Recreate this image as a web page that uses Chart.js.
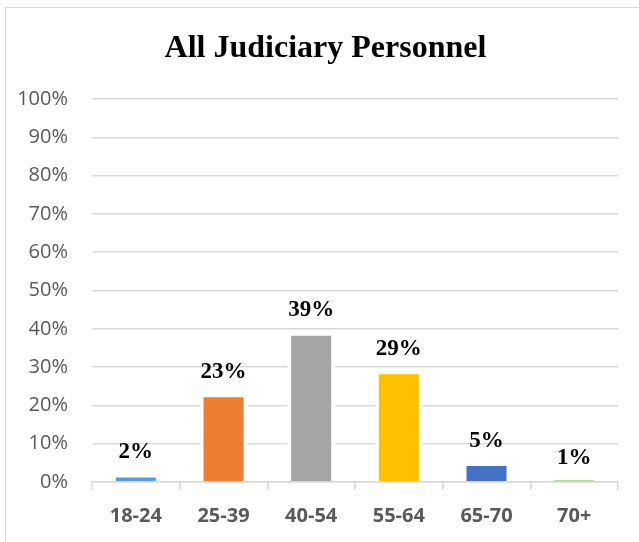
<!DOCTYPE html>
<html>
<head>
<meta charset="utf-8">
<script src="https://cdn.jsdelivr.net/npm/chart.js@4"></script>
<style>
  html, body { margin: 0; padding: 0; background: #ffffff; }
  #wrap { position: relative; width: 639px; height: 542px; overflow: hidden; }
  #frame { position: absolute; left: 5px; top: 7px; width: 700px; height: 600px;
           border-left: 1px solid #d9d9d9; border-top: 1px solid #d9d9d9; }
  canvas { position: absolute; left: 0; top: 0; }
</style>
</head>
<body>
<div id="wrap">
  <div id="frame"></div>
  <canvas id="c" width="639" height="542"></canvas>
</div>
<script>
const titleText = "All Judiciary Personnel";
const categories = ["18-24", "25-39", "40-54", "55-64", "65-70", "70+"];
const values = [2.2, 23.2, 39.2, 29.2, 5.2, 0.6];
const barColors = ["#5B9BD5", "#ED7D31", "#A5A5A5", "#FFC000", "#4472C4", "#70AD47"];
const yTicks = [0, 10, 20, 30, 40, 50, 60, 70, 80, 90, 100];

const titlePlugin = {
  id: "titlePlugin",
  afterDraw(chart) {
    const ctx = chart.ctx;
    ctx.save();
    ctx.font = "bold 32px 'Liberation Serif', 'Times New Roman', serif";
    ctx.fillStyle = "#000000";
    ctx.textAlign = "center";
    ctx.textBaseline = "alphabetic";
    ctx.fillText(titleText, 325.5, 57.3);
    ctx.restore();
  }
};

const dataLabels = {
  id: "dataLabels",
  afterDatasetsDraw(chart) {
    const ctx = chart.ctx;
    const meta = chart.getDatasetMeta(0);
    ctx.save();
    ctx.font = "bold 23px 'Liberation Serif', 'Times New Roman', serif";
    ctx.fillStyle = "#000000";
    ctx.textAlign = "center";
    ctx.textBaseline = "alphabetic";
    meta.data.forEach((bar, i) => {
      ctx.fillText(Math.max(1, Math.round(values[i])) + "%", bar.x, bar.y - 15.5);
    });
    ctx.restore();
  }
};

new Chart(document.getElementById("c"), {
  type: "bar",
  data: {
    labels: categories,
    datasets: [{
      data: values,
      backgroundColor: barColors,
      borderColor: "#ffffff",
      borderWidth: 4,
      borderSkipped: "bottom",
      barPercentage: 0.5475,
      categoryPercentage: 1.0
    }]
  },
  options: {
    responsive: false,
    animation: false,
    devicePixelRatio: 1,
    layout: { padding: { left: 0, right: 21, top: 99, bottom: 0 } },
    plugins: {
      legend: { display: false },
      tooltip: { enabled: false },
      title: { display: false }
    },
    scales: {
      x: {
        grid: { display: true, drawOnChartArea: false, drawTicks: true, tickLength: 8,
                color: "#d9d9d9", lineWidth: 1.5, offset: true },
        border: { display: true, color: "#d9d9d9", width: 1.5 },
        ticks: { color: "#595959", padding: 14,
                 font: { family: "'Open Sans', sans-serif", size: 20, weight: "bold" } },
        afterFit(scale) { scale.height = 60; }
      },
      y: {
        min: 0, max: 100,
        afterBuildTicks(scale) { scale.ticks = yTicks.map(v => ({ value: v })); },
        grid: { color: "#d9d9d9", lineWidth: 1.5, drawTicks: false },
        border: { display: false },
        ticks: { color: "#595959", padding: 24,
                 font: { family: "'Open Sans', sans-serif", size: 20 },
                 callback: v => v + "%" },
        afterFit(scale) { scale.width = 92; }
      }
    }
  },
  plugins: [dataLabels, titlePlugin]
});
</script>
</body>
</html>
